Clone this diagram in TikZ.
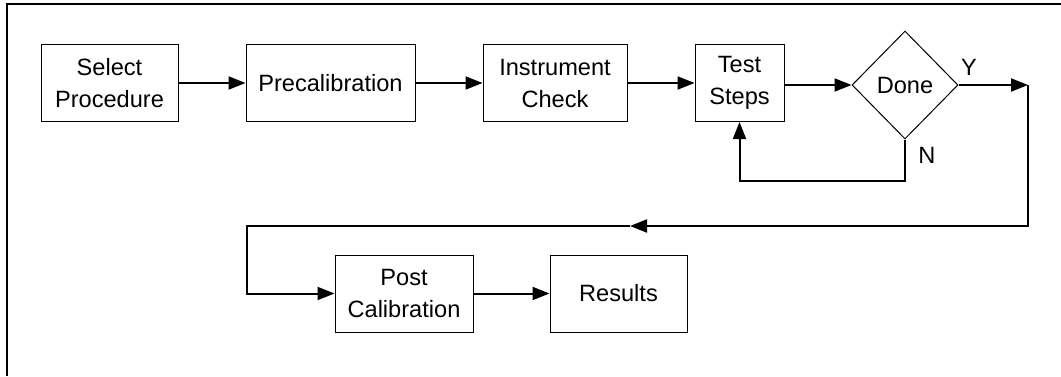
\documentclass[tikz,border=0pt]{standalone}
\usepackage{fontspec}
\setmainfont{Liberation Sans}
\usetikzlibrary{arrows.meta,shapes.geometric}

\begin{document}
\begin{tikzpicture}[x=0.5pt,y=-0.5pt,
  box/.style={draw,line width=0.5pt,align=center,minimum height=38.5pt,inner sep=0pt,
    font=\fontsize{11.8}{16}\selectfont},
  decision/.style={draw,diamond,line width=0.5pt,minimum width=53pt,minimum height=54pt,inner sep=0pt,
    font=\fontsize{11.8}{16}\selectfont},
  arr/.style={line width=1pt,-{Triangle[length=8.5pt,width=6.5pt]}}]
\useasboundingbox (0,0) rectangle (1061,376);
\draw[line width=1pt] (1061,4)--(7,4)--(7,376);
\node[box,minimum width=68.5pt] (sel) at (109.5,83) {Select\\Procedure};
\node[box,minimum width=84.5pt] (pre) at (330.5,83) {Precalibration};
\node[box,minimum width=72pt] (ins) at (555,83) {Instrument\\Check};
\node[box,minimum width=44.5pt] (tst) at (739.5,83) {Test\\Steps};
\node[decision] (done) at (905,85) {Done};
\node[box,minimum width=69pt] (post) at (404,293.5) {Post\\Calibration};
\node[box,minimum width=68.5pt] (res) at (618.5,293.5) {Results};
\node[font=\fontsize{11.8}{16}\selectfont] (lbly) at (969,67) {Y};
\node[font=\fontsize{11.8}{16}\selectfont] (lbln) at (927,155) {N};
\coordinate (ycorner) at (1028,85);
\coordinate (ymid) at (630,226);
\draw[arr] (sel)--(pre);
\draw[arr] (pre)--(ins);
\draw[arr] (ins)--(tst);
\draw[arr] (tst.east|-done.west)--(done.west);
\draw[arr] (done)--(ycorner);
\draw[arr] (done.south)--++(0,41)-|(tst.south);
\draw[arr] (ycorner)|-(ymid);
\draw[arr] (ymid)-|(247,293.5)--(post);
\draw[arr] (post)--(res);
\end{tikzpicture}
\end{document}
